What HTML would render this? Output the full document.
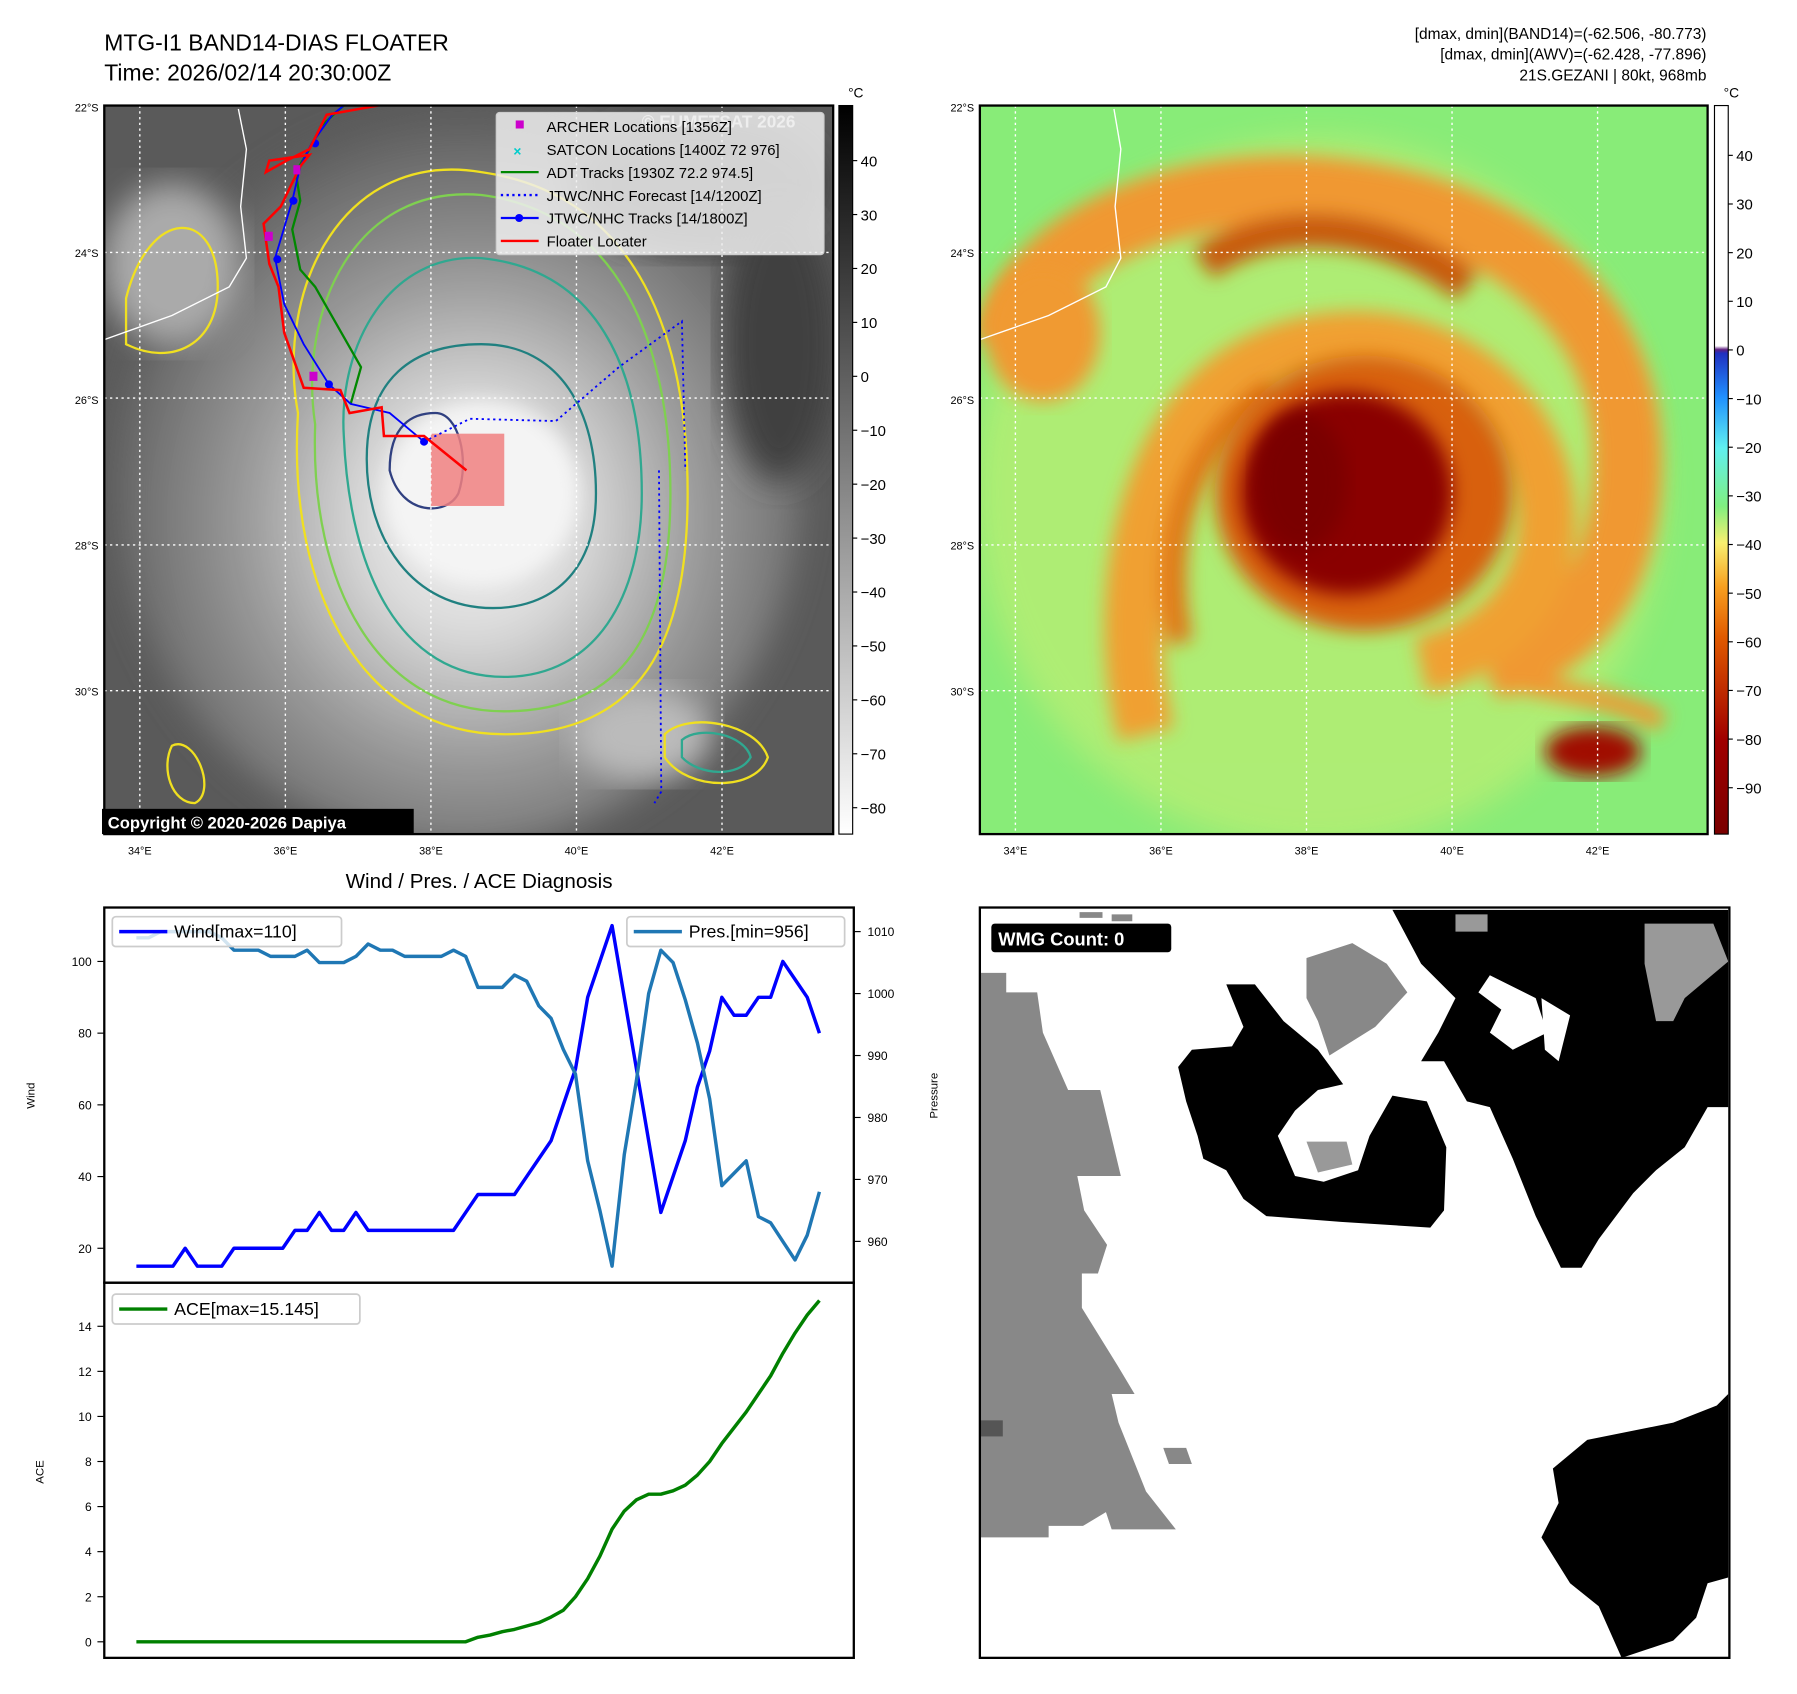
<!DOCTYPE html>
<html><head><meta charset="utf-8"><style>
html,body{margin:0;padding:0;background:#fff;}
svg{display:block;font-family:"Liberation Sans","DejaVu Sans",sans-serif;}
</style></head><body>
<svg id="root" width="1797" height="1694" viewBox="0 0 1568 1476.5" preserveAspectRatio="none" xmlns="http://www.w3.org/2000/svg">
<defs>
<filter id="blur8"><feGaussianBlur stdDeviation="8"/></filter>
<filter id="blur14"><feGaussianBlur stdDeviation="14"/></filter>
<clipPath id="clipL"><rect x="91" y="92" width="636" height="635"/></clipPath>
<clipPath id="clipR"><rect x="855" y="92" width="635" height="635"/></clipPath>
<linearGradient id="cbGray" x1="0" y1="1" x2="0" y2="0"><stop offset="0" stop-color="#fff"/><stop offset="1" stop-color="#000"/></linearGradient>
<linearGradient id="cbJet" x1="0" y1="1" x2="0" y2="0">
<stop offset="0" stop-color="#7a0000"/><stop offset="0.13" stop-color="#a00000"/><stop offset="0.27" stop-color="#e05a00"/><stop offset="0.34" stop-color="#f8a020"/><stop offset="0.40" stop-color="#f8f070"/><stop offset="0.45" stop-color="#80f080"/><stop offset="0.53" stop-color="#60f0f0"/><stop offset="0.60" stop-color="#2090ff"/><stop offset="0.66" stop-color="#2030c0"/><stop offset="0.665" stop-color="#602080"/><stop offset="0.67" stop-color="#ffffff"/><stop offset="1" stop-color="#ffffff"/></linearGradient>
<radialGradient id="cloudG" cx="0.52" cy="0.55" r="0.6"><stop offset="0" stop-color="#f2f2f2"/><stop offset="0.25" stop-color="#dcdcdc"/><stop offset="0.55" stop-color="#9a9a9a"/><stop offset="1" stop-color="#505050"/></radialGradient>
</defs>

<text x="91" y="44" font-size="20">MTG-I1 BAND14-DIAS FLOATER</text>
<text x="91" y="70" font-size="20">Time: 2026/02/14 20:30:00Z</text>
<g font-size="13.5" text-anchor="end">
<text x="1489" y="34">[dmax, dmin](BAND14)=(-62.506, -80.773)</text>
<text x="1489" y="52">[dmax, dmin](AWV)=(-62.428, -77.896)</text>
<text x="1489" y="70">21S.GEZANI | 80kt, 968mb</text>
</g>

<g clip-path="url(#clipL)">
<rect x="91" y="92" width="636" height="635" fill="#5a5a5a"/>
<ellipse cx="400" cy="420" rx="300" ry="320" fill="url(#cloudG)" filter="url(#blur14)"/>
<ellipse cx="150" cy="230" rx="60" ry="70" fill="#aaa" filter="url(#blur14)"/>
<ellipse cx="560" cy="640" rx="60" ry="40" fill="#bbb" filter="url(#blur14)"/>
<ellipse cx="610" cy="160" rx="110" ry="60" fill="#3a3a3a" filter="url(#blur14)"/>
<ellipse cx="680" cy="300" rx="50" ry="120" fill="#404040" filter="url(#blur14)"/>
<ellipse cx="420" cy="430" rx="85" ry="80" fill="#f4f4f4" filter="url(#blur8)"/>
<g fill="none" stroke-width="2">
<path d="M260 360 C240 250 300 130 420 150 C560 170 600 300 600 430 C600 560 560 640 440 640 C320 640 250 520 260 360 Z" stroke="#f0e020"/>
<path d="M275 370 C260 270 310 160 420 170 C540 185 585 300 585 430 C585 550 545 620 440 620 C330 620 270 510 275 370 Z" stroke="#7fd050"/>
<path d="M300 380 C295 300 340 220 420 225 C520 235 560 320 560 430 C560 520 520 590 440 590 C350 590 305 500 300 380 Z" stroke="#30a890"/>
<path d="M320 400 C320 330 360 300 420 300 C490 300 520 360 520 430 C520 500 480 530 430 530 C360 530 320 470 320 400 Z" stroke="#208080"/>
<path d="M340 410 C340 370 360 360 380 360 C400 360 410 400 400 430 C390 450 350 450 340 410 Z" stroke="#304080"/>
<path d="M110 260 C130 180 190 180 190 250 C190 300 150 320 110 300 Z" stroke="#f0e020"/>
<path d="M580 640 C600 620 660 630 670 660 C660 690 600 690 580 660 Z" stroke="#f0e020"/>
<path d="M595 645 C610 632 650 640 655 660 C645 678 610 676 595 660 Z" stroke="#30a890"/>
<path d="M150 650 C170 640 190 690 170 700 C150 700 140 670 150 650 Z" stroke="#f0e020"/>
</g>
<rect x="376" y="378" width="64" height="63" fill="#f08080" opacity="0.85"/>
<g stroke="#fff" stroke-width="1.2" stroke-dasharray="2,3" fill="none">
<line x1="122" y1="92" x2="122" y2="727"/><line x1="249" y1="92" x2="249" y2="727"/><line x1="376" y1="92" x2="376" y2="727"/><line x1="503" y1="92" x2="503" y2="727"/><line x1="630" y1="92" x2="630" y2="727"/>
<line x1="91" y1="220" x2="727" y2="220"/><line x1="91" y1="347" x2="727" y2="347"/><line x1="91" y1="475" x2="727" y2="475"/><line x1="91" y1="602" x2="727" y2="602"/>
</g>
<path d="M91 296 L150 275 L200 250 L215 225 L210 180 L215 130 L208 95" stroke="#fff" stroke-width="1.2" fill="none"/>
<path d="M575 410 L577 690 L571 700" stroke="#00f" stroke-width="1.6" stroke-dasharray="2,3" fill="none"/>
<path d="M370 385 L410 365 L485 367 L540 320 L595 280 L598 410" stroke="#00f" stroke-width="1.6" stroke-dasharray="2,3" fill="none"/>
<path d="M306 352 L315 320 L295 285 L275 250 L262 235 L255 200 L262 175 L258 150 L270 130 L280 110 L300 92" stroke="#080" stroke-width="2" fill="none"/>
<path d="M370 385 L340 360 L306 352 L287 335 L265 300 L248 265 L240 225 L255 175 L262 145 L272 125 L290 100 L300 92" stroke="#00f" stroke-width="1.6" fill="none"/>
<g fill="#00f"><circle cx="370" cy="385" r="3.5"/><circle cx="287" cy="335" r="3.5"/><circle cx="242" cy="226" r="3.5"/><circle cx="256" cy="175" r="3.5"/><circle cx="275" cy="125" r="3.5"/></g>
<path d="M407 410 L370 380 L335 380 L333 355 L305 360 L297 340 L265 338 L248 290 L243 250 L235 230 L230 195 L245 180 L262 145 L270 135 L235 140 L232 150 L250 140 L270 130 L285 100 L330 92" stroke="#f00" stroke-width="2.2" fill="none"/>
<g fill="#c0c"><rect x="231" y="202" width="7" height="8"/><rect x="270" y="324" width="7" height="8"/><rect x="256" y="144" width="6" height="8"/></g>
<text x="560" y="111" font-size="15" font-weight="bold" fill="#e8e8e8">© EUMETSAT 2026</text>
</g>
<rect x="91" y="92" width="636" height="635" fill="none" stroke="#000" stroke-width="2"/>
<g>
<rect x="433" y="98" width="286" height="124" rx="3" fill="#eee" fill-opacity="0.85" stroke="#ccc"/>
<g font-size="13">
<rect x="450" y="105" width="7" height="7" fill="#c0c"/><text x="477" y="115">ARCHER Locations [1356Z]</text>
<text x="448" y="136" fill="#0cc" font-size="12" font-weight="bold">×</text><text x="477" y="135">SATCON Locations [1400Z 72 976]</text>
<line x1="437" y1="150" x2="470" y2="150" stroke="#080" stroke-width="2"/><text x="477" y="155">ADT Tracks [1930Z 72.2 974.5]</text>
<line x1="437" y1="170" x2="470" y2="170" stroke="#00f" stroke-width="2" stroke-dasharray="2,3"/><text x="477" y="175">JTWC/NHC Forecast [14/1200Z]</text>
<line x1="437" y1="190" x2="470" y2="190" stroke="#00f" stroke-width="2"/><circle cx="453" cy="190" r="3.5" fill="#00f"/><text x="477" y="195">JTWC/NHC Tracks [14/1800Z]</text>
<line x1="437" y1="210" x2="470" y2="210" stroke="#f00" stroke-width="2"/><text x="477" y="215">Floater Locater</text>
</g></g>
<rect x="89" y="705" width="272" height="22" fill="#000"/>
<text x="94" y="722" font-size="14.5" font-weight="bold" fill="#fff">Copyright © 2020-2026 Dapiya</text>

<g font-size="9.5">
<g text-anchor="end"><text x="86" y="97">22°S</text><text x="86" y="224">24°S</text><text x="86" y="352">26°S</text><text x="86" y="479">28°S</text><text x="86" y="606">30°S</text>
<text x="850" y="97">22°S</text><text x="850" y="224">24°S</text><text x="850" y="352">26°S</text><text x="850" y="479">28°S</text><text x="850" y="606">30°S</text></g>
<g text-anchor="middle"><text x="122" y="745">34°E</text><text x="249" y="745">36°E</text><text x="376" y="745">38°E</text><text x="503" y="745">40°E</text><text x="630" y="745">42°E</text>
<text x="886" y="745">34°E</text><text x="1013" y="745">36°E</text><text x="1140" y="745">38°E</text><text x="1267" y="745">40°E</text><text x="1394" y="745">42°E</text></g>
</g>

<g>
<rect x="732" y="92" width="12" height="635" fill="url(#cbGray)" stroke="#000" stroke-width="1"/>
<text x="740" y="85" font-size="12">°C</text>
<g font-size="13" id="cbL"></g>
</g>

<g clip-path="url(#clipR)">
<rect x="855" y="92" width="635" height="635" fill="#88ec78"/>
<ellipse cx="1150" cy="430" rx="300" ry="310" fill="#e8f070" filter="url(#blur14)" opacity="0.4"/>
<g fill="none" filter="url(#blur8)">
<path d="M880 300 C900 200 1050 150 1180 170 C1330 190 1420 280 1420 400 C1420 500 1380 560 1300 580" stroke="#f09830" stroke-width="60"/>
<path d="M1000 640 C970 520 1000 370 1090 320 C1180 270 1300 300 1340 400 C1370 480 1330 560 1240 580" stroke="#f0a030" stroke-width="50"/>
<path d="M1030 560 C1010 470 1040 380 1110 340" stroke="#e07818" stroke-width="22"/>
<path d="M1300 590 C1350 600 1420 610 1450 630" stroke="#f09830" stroke-width="18"/>
<path d="M1050 230 C1120 180 1220 200 1280 250" stroke="#c85a08" stroke-width="30"/>
</g>
<ellipse cx="1190" cy="430" rx="130" ry="120" fill="#d86010" filter="url(#blur8)"/>
<ellipse cx="1175" cy="430" rx="92" ry="88" fill="#8a0000" filter="url(#blur8)"/>
<ellipse cx="1135" cy="420" rx="40" ry="60" fill="#7a0000" filter="url(#blur8)"/>
<ellipse cx="910" cy="290" rx="50" ry="60" fill="#f09a30" filter="url(#blur8)"/>
<ellipse cx="1390" cy="655" rx="42" ry="22" fill="#a01000" filter="url(#blur8)"/>
<path d="M855 296 L915 275 L965 250 L978 225 L973 180 L978 130 L972 95" stroke="#fff" stroke-width="1.2" fill="none"/>
<g stroke="#fff" stroke-width="1.2" stroke-dasharray="2,3" fill="none">
<line x1="886" y1="92" x2="886" y2="727"/><line x1="1013" y1="92" x2="1013" y2="727"/><line x1="1140" y1="92" x2="1140" y2="727"/><line x1="1267" y1="92" x2="1267" y2="727"/><line x1="1394" y1="92" x2="1394" y2="727"/>
<line x1="855" y1="220" x2="1490" y2="220"/><line x1="855" y1="347" x2="1490" y2="347"/><line x1="855" y1="475" x2="1490" y2="475"/><line x1="855" y1="602" x2="1490" y2="602"/>
</g>
</g>
<rect x="855" y="92" width="635" height="635" fill="none" stroke="#000" stroke-width="2"/>
<g>
<rect x="1496" y="92" width="12" height="635" fill="url(#cbJet)" stroke="#000" stroke-width="1"/>
<text x="1504" y="85" font-size="12">°C</text>
<g font-size="13" id="cbR"></g>
</g>

<text x="418" y="774" font-size="18" text-anchor="middle">Wind / Pres. / ACE Diagnosis</text>
<g id="chart"></g>

<g>
<rect x="855" y="791" width="654" height="654" fill="#fff"/>
<g fill="#888">
<polygon points="855,848 878,848 878,865 905,865 910,900 932,950 960,950 978,1025 940,1025 946,1055 966,1085 958,1110 944,1110 944,1140 975,1190 990,1215 970,1215 976,1240 1000,1300 1026,1333 970,1333 965,1318 945,1330 915,1330 915,1340 855,1340"/>
<polygon points="1015,1262 1035,1262 1040,1276 1020,1276"/>
<polygon points="1140,835 1180,822 1210,840 1228,865 1200,895 1160,920 1150,890 1140,870"/>
<polygon points="942,795 962,795 962,800 942,800"/><polygon points="970,797 988,797 988,803 970,803"/>
</g>
<rect x="855" y="1238" width="20" height="14" fill="#555"/>
<g fill="#000">
<polygon points="1215,793 1508,793 1508,965 1490,965 1470,1000 1445,1020 1425,1040 1395,1080 1380,1105 1362,1105 1340,1060 1320,1010 1300,965 1280,960 1260,925 1240,925 1255,900 1270,870 1240,840"/>
<polygon points="1070,858 1095,858 1120,890 1150,915 1172,945 1150,950 1130,968 1115,990 1130,1025 1155,1030 1185,1020 1195,990 1215,955 1245,960 1262,1000 1260,1055 1248,1070 1170,1065 1105,1060 1085,1045 1070,1020 1050,1010 1045,990 1035,960 1028,930 1040,915 1075,912 1085,895"/>
<polygon points="1385,1255 1460,1240 1498,1225 1508,1215 1508,1375 1490,1380 1480,1410 1460,1430 1415,1445 1395,1400 1370,1380 1345,1340 1360,1310 1355,1280"/>
</g>
<g fill="#fff"><polygon points="1300,850 1340,870 1350,900 1320,915 1300,900 1310,880 1290,865"/><polygon points="1345,870 1370,885 1360,925 1348,915"/></g>
<g fill="#999"><polygon points="1270,797 1298,797 1298,812 1270,812"/><polygon points="1435,805 1495,805 1508,838 1470,870 1460,890 1445,890 1435,840"/><polygon points="1140,995 1175,995 1180,1015 1150,1022"/></g>
<rect x="855" y="791" width="654" height="654" fill="none" stroke="#000" stroke-width="2"/>
<rect x="865" y="805" width="157" height="25" rx="3" fill="#000"/>
<text x="871" y="824" font-size="16" font-weight="bold" fill="#fff">WMG Count: 0</text>
</g>
</svg>
<script>
const windValues=[15,15,15,15,20,15,15,15,20,20,20,20,20,25,25,30,25,25,30,25,25,25,25,25,25,25,25,30,35,35,35,35,40,45,50,60,70,90,100,110,90,70,50,30,40,50,65,75,90,85,85,90,90,100,95,90,80];
const presValues=[1009,1009,1010,1010,1010,1010,1010,1009,1007,1007,1007,1006,1006,1006,1007,1005,1005,1005,1006,1008,1007,1007,1006,1006,1006,1006,1007,1006,1001,1001,1001,1003,1002,998,996,991,987,973,965,956,974,986,1000,1007,1005,999,992,983,969,971,973,964,963,960,957,961,968];
const aceValues=[0,0,0,0,0,0,0,0,0,0,0,0,0,0,0,0,0,0,0,0,0,0,0,0,0,0,0,0,0.2,0.3,0.45,0.55,0.7,0.85,1.1,1.4,2.0,2.8,3.8,5.0,5.8,6.3,6.55,6.55,6.7,6.95,7.4,8.0,8.8,9.5,10.2,11.0,11.8,12.8,13.7,14.5,15.145];
const windTicks=[20,40,60,80,100];
const presTicks=[960,970,980,990,1000,1010];
const aceTicks=[0,2,4,6,8,10,12,14];
const grayTicks=[40,30,20,10,0,-10,-20,-30,-40,-50,-60,-70,-80];
const jetTicks=[40,30,20,10,0,-10,-20,-30,-40,-50,-60,-70,-80,-90];

const NS='http://www.w3.org/2000/svg';
function mk(tag,attrs,parent){const e=document.createElementNS(NS,tag);for(const k in attrs)e.setAttribute(k,attrs[k]);parent.appendChild(e);return e;}
const xS=i=>119+i*(715-119)/(windValues.length-1);
const yW=v=>1088-(v-20)*(1088-838)/80;
const yP=v=>1082-(v-960)*(1082-812)/50;
const yA=v=>1431-v*(1431-1156)/14;
const chart=document.getElementById('chart');


mk('rect',{x:91,y:791,width:654,height:327,fill:'none',stroke:'#000','stroke-width':2},chart);
mk('rect',{x:91,y:1118,width:654,height:327,fill:'none',stroke:'#000','stroke-width':2},chart);
function ticksLeft(arr,f){arr.forEach(v=>{const y=f(v);mk('line',{x1:85,x2:91,y1:y,y2:y,stroke:'#000'},chart);const t=mk('text',{x:80,y:y+4,'font-size':10.5,'text-anchor':'end'},chart);t.textContent=v;});}
ticksLeft(windTicks,yW);ticksLeft(aceTicks,yA);
presTicks.forEach(v=>{const y=yP(v);mk('line',{x1:745,x2:751,y1:y,y2:y,stroke:'#000'},chart);const t=mk('text',{x:757,y:y+4,'font-size':10.5},chart);t.textContent=v;});
const yl=mk('text',{x:0,y:0,'font-size':10,'text-anchor':'middle',transform:'translate(30,955) rotate(-90)'},chart);yl.textContent='Wind';
const pl=mk('text',{x:0,y:0,'font-size':10,'text-anchor':'middle',transform:'translate(818,955) rotate(-90)'},chart);pl.textContent='Pressure';
const al=mk('text',{x:0,y:0,'font-size':10,'text-anchor':'middle',transform:'translate(38,1283) rotate(-90)'},chart);al.textContent='ACE';
function line(vals,f,color){return mk('polyline',{points:vals.map((v,i)=>xS(i)+','+f(v)).join(' '),fill:'none',stroke:color,'stroke-width':3,'stroke-linejoin':'round'},chart);}
const wl=line(windValues,yW,'#0000ff');


const pln=line(presValues,yP,'#1f77b4');


const acl=line(aceValues,yA,'#008000');


function legend(x,y,w,color,label,name){const g=mk('g',{},chart);mk('rect',{x:x,y:y,width:w,height:26,rx:3,fill:'#fff','fill-opacity':0.8,stroke:'#ccc','stroke-width':1.5},g);mk('line',{x1:x+6,x2:x+48,y1:y+13,y2:y+13,stroke:color,'stroke-width':3},g);const t=mk('text',{x:x+54,y:y+18,'font-size':15.5},g);t.textContent=label;}
legend(98,799,200,'#0000ff','Wind[max=110]','wind-legend');
legend(547,799,190,'#1f77b4','Pres.[min=956]','pressure-legend');
legend(98,1128,216,'#008000','ACE[max=15.145]','ace-legend');
const cbL=document.getElementById('cbL');
grayTicks.forEach(v=>{const y=328-v*4.7;mk('line',{x1:744,x2:748,y1:y,y2:y,stroke:'#000'},cbL);const t=mk('text',{x:751,y:y+5},cbL);t.textContent=v===0?'0':(v<0?'\u2212'+(-v):v);});
const cbR=document.getElementById('cbR');
jetTicks.forEach(v=>{const y=305-v*4.24;mk('line',{x1:1508,x2:1512,y1:y,y2:y,stroke:'#000'},cbR);const t=mk('text',{x:1515,y:y+5},cbR);t.textContent=v===0?'0':(v<0?'\u2212'+(-v):v);});
</script>
</body></html>
